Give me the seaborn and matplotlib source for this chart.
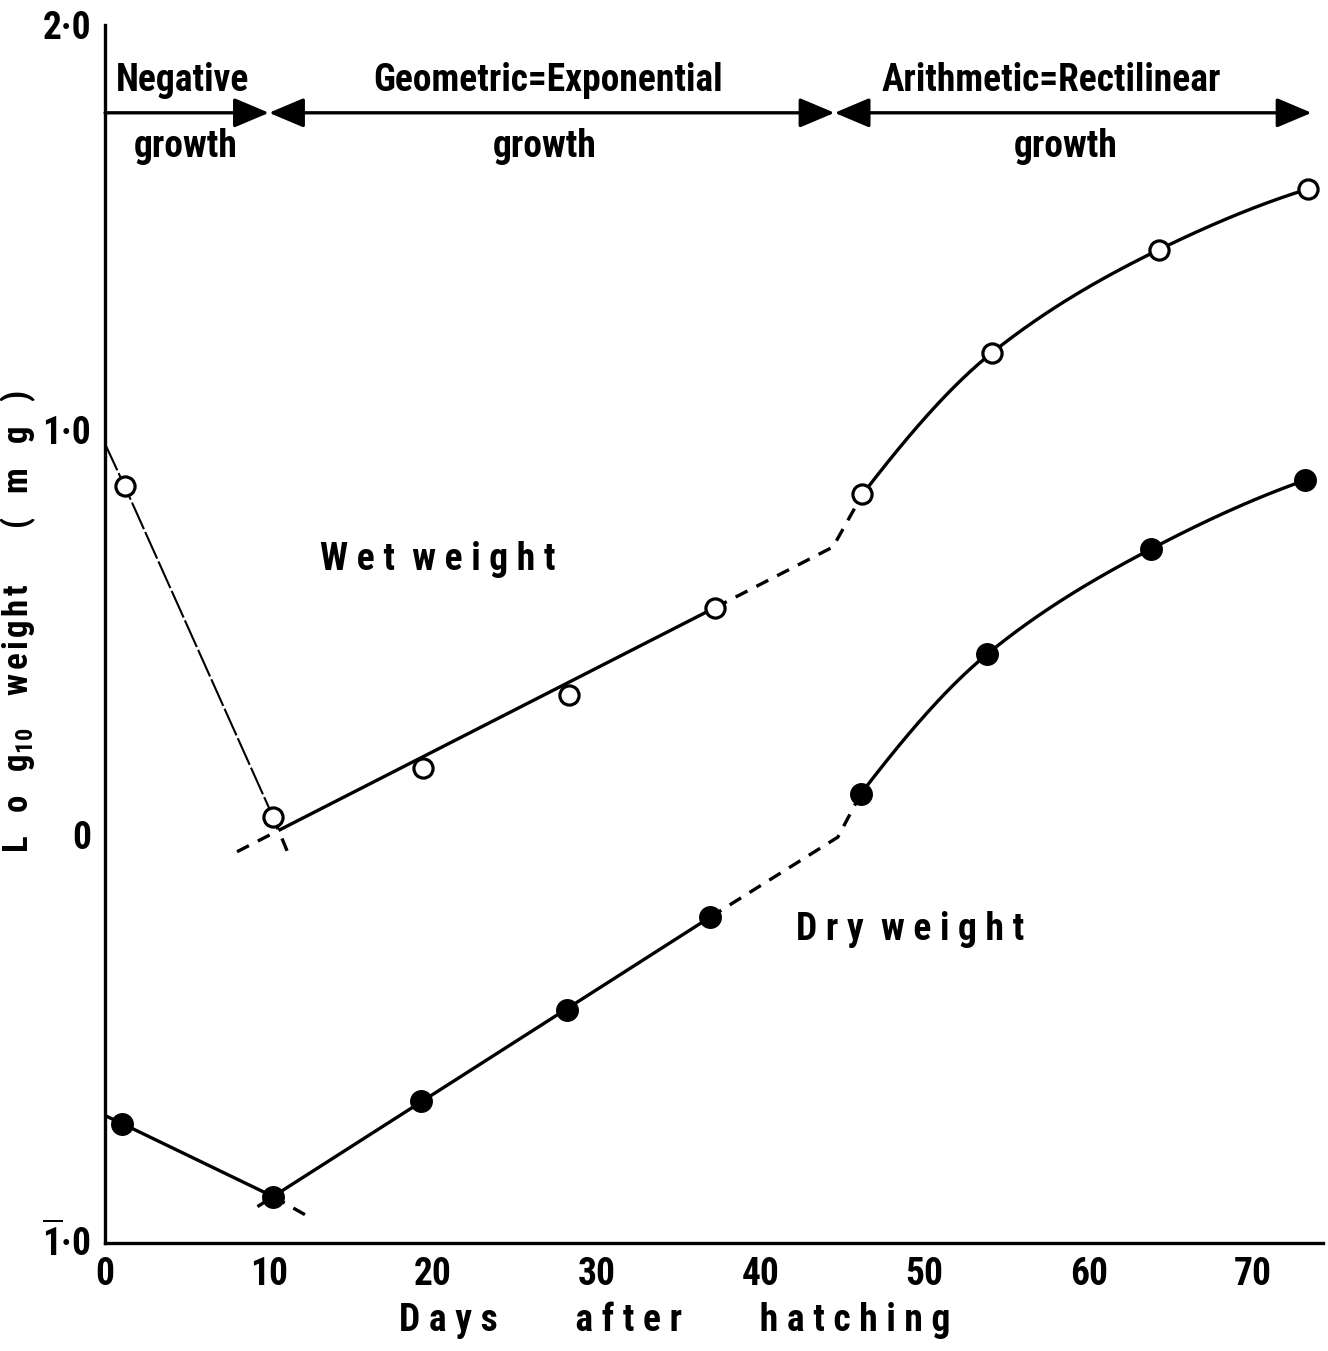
import numpy as np
import matplotlib
matplotlib.use("Agg")
import matplotlib.pyplot as plt
from matplotlib import font_manager as fm
import seaborn as sns

# ---------------- data ----------------
wet_days = [1.2, 10.25, 19.4, 28.3, 37.2, 46.2, 54.1, 64.3, 73.4]
wet_vals = [0.86, 0.043, 0.165, 0.345, 0.56, 0.84, 1.19, 1.445, 1.595]
dry_days = [1.05, 10.25, 19.3, 28.2, 36.9, 46.1, 53.8, 63.8, 73.2]
dry_vals = [-0.715, -0.895, -0.66, -0.435, -0.205, 0.10, 0.445, 0.705, 0.875]

# hand-drawn guide lines in the reference (day, log10 weight)
wet_neg_line_d = [0.0, 1.2, 10.25]
wet_neg_line_v = [0.965, 0.86, 0.043]
wet_neg_ext_d = [10.25, 11.25]
wet_neg_ext_v = [0.043, -0.055]
wet_exp_line_d = [10.7, 37.2]
wet_exp_line_v = [0.012, 0.56]
wet_exp_back_d = [8.05, 10.7]
wet_exp_back_v = [-0.043, 0.012]
wet_exp_fwd_d = [37.2, 44.4, 46.2]
wet_exp_fwd_v = [0.56, 0.71, 0.84]
wet_arith_d = [46.2, 54.1, 64.3, 73.4]
wet_arith_v = [0.84, 1.19, 1.445, 1.595]

dry_neg_line_d = [0.0, 1.05, 10.25]
dry_neg_line_v = [-0.695, -0.715, -0.895]
dry_neg_ext_d = [10.25, 12.2]
dry_neg_ext_v = [-0.895, -0.94]
dry_exp_line_d = [10.25, 36.9]
dry_exp_line_v = [-0.895, -0.205]
dry_exp_back_d = [9.3, 10.25]
dry_exp_back_v = [-0.92, -0.895]
dry_exp_fwd_d = [36.9, 44.7, 46.1]
dry_exp_fwd_v = [-0.205, -0.007, 0.10]
dry_arith_d = [46.1, 53.8, 63.8, 73.2]
dry_arith_v = [0.10, 0.445, 0.705, 0.875]

x_ticks = [0, 10, 20, 30, 40, 50, 60, 70]
y_ticks = [-1, 0, 1, 2]
y_ticklabels = [r"$\overline{\mathrm{1}}$·0", "0", "1·0", "2·0"]

phase_bounds = [0, 10, 44.5, 73.6]
phase_top = ["Negative", "Geometric=Exponential", "Arithmetic=Rectilinear"]
phase_bottom = ["growth", "growth", "growth"]

# ---------------- style ----------------
sns.set_theme(style="white")

# choose the narrowest available sans family
ttf = fm.fontManager.ttflist
names = {f.name for f in ttf}
FAMILY, STRETCH, MATHRM = "DejaVu Sans", "normal", "DejaVu Sans"
if "Liberation Sans Narrow" in names:
    FAMILY, MATHRM = "Liberation Sans Narrow", "Liberation Sans Narrow"
elif "Roboto Condensed" in names:
    FAMILY, MATHRM = "Roboto Condensed", "Roboto Condensed"
elif any(f.name == "DejaVu Sans" and str(f.stretch) in ("condensed", "semi-condensed") for f in ttf):
    FAMILY, STRETCH, MATHRM = "DejaVu Sans", "condensed", "DejaVu Sans:stretch=condensed"

WEIGHT = "bold"
plt.rcParams["font.family"] = [FAMILY, "DejaVu Sans"]
plt.rcParams["font.stretch"] = STRETCH
plt.rcParams["font.weight"] = WEIGHT
plt.rcParams["axes.labelweight"] = WEIGHT
plt.rcParams["mathtext.fontset"] = "custom"
plt.rcParams["mathtext.rm"] = MATHRM + ":bold"
plt.rcParams["mathtext.it"] = MATHRM + ":bold"
for k in ["text.color", "axes.labelcolor", "xtick.color", "ytick.color", "axes.edgecolor"]:
    plt.rcParams[k] = "black"

narrow = FAMILY != "DejaVu Sans" or STRETCH != "normal"
FS = 27 if narrow else 23
SP = " " if narrow else "\u2009"   # letter spacing character
HAIR = "\u200a"
LW = 2.4
DASH = (0, (4, 3))


def spaced(words, gap=3, letter=1):
    return (SP * gap).join((SP * letter).join(w) for w in words.split())


def pchip(xs, ys, n=80):
    xs = np.asarray(xs, float)
    ys = np.asarray(ys, float)
    h = np.diff(xs)
    d = np.diff(ys) / h
    m = np.zeros_like(ys)
    for k in range(1, len(xs) - 1):
        if d[k - 1] * d[k] > 0:
            w1 = 2 * h[k] + h[k - 1]
            w2 = h[k] + 2 * h[k - 1]
            m[k] = (w1 + w2) / (w1 / d[k - 1] + w2 / d[k])
    m[0] = ((2 * h[0] + h[1]) * d[0] - h[0] * d[1]) / (h[0] + h[1])
    m[-1] = ((2 * h[-1] + h[-2]) * d[-1] - h[-1] * d[-2]) / (h[-1] + h[-2])
    xo, yo = [], []
    for k in range(len(h)):
        t = np.linspace(0, 1, n)
        h00 = 2 * t**3 - 3 * t**2 + 1
        h10 = t**3 - 2 * t**2 + t
        h01 = -2 * t**3 + 3 * t**2
        h11 = t**3 - t**2
        xo.extend(xs[k] + t * h[k])
        yo.extend(h00 * ys[k] + h10 * h[k] * m[k] + h01 * ys[k + 1] + h11 * h[k] * m[k + 1])
    return np.array(xo), np.array(yo)


fig = plt.figure(figsize=(13.28, 13.51), dpi=100)
ax = fig.add_axes([0.0791, 0.0799, 0.9172, 0.9016])


def line(xd, yd, lw=LW, ls="-"):
    sns.lineplot(x=xd, y=yd, ax=ax, color="black", lw=lw, linestyle=ls,
                 sort=False, estimator=None, legend=False, zorder=2)


# wet weight
line(wet_neg_line_d, wet_neg_line_v, lw=1.5, ls=(0, (14, 1.5)))
line(wet_neg_ext_d, wet_neg_ext_v, lw=LW, ls=DASH)
line(wet_exp_line_d, wet_exp_line_v)
line(wet_exp_back_d, wet_exp_back_v, ls=DASH)
line(wet_exp_fwd_d, wet_exp_fwd_v, ls=DASH)
cx, cy = pchip(wet_arith_d, wet_arith_v)
line(cx, cy)

# dry weight
line(dry_neg_line_d, dry_neg_line_v)
line(dry_neg_ext_d, dry_neg_ext_v, ls=DASH)
line(dry_exp_line_d, dry_exp_line_v)
line(dry_exp_back_d, dry_exp_back_v, ls=DASH)
line(dry_exp_fwd_d, dry_exp_fwd_v, ls=DASH)
cx, cy = pchip(dry_arith_d, dry_arith_v)
line(cx, cy)

sns.scatterplot(x=wet_days, y=wet_vals, ax=ax, marker="o", s=190,
                facecolor="white", edgecolor="black", linewidth=2.3, zorder=4, legend=False)
sns.scatterplot(x=dry_days, y=dry_vals, ax=ax, marker="o", s=240,
                color="black", edgecolor="black", linewidth=1, zorder=4, legend=False)

# phase arrows
yarr = 1.783
for i in range(len(phase_bounds) - 1):
    a, b = phase_bounds[i], phase_bounds[i + 1]
    if i == 0:
        style = "-|>,head_length=0.9,head_width=0.38"
    else:
        style = "<|-|>,head_length=0.9,head_width=0.38"
    ax.annotate("", xy=(b, yarr), xytext=(a, yarr),
                arrowprops=dict(arrowstyle=style, lw=LW, color="black",
                                mutation_scale=24, shrinkA=0, shrinkB=0),
                annotation_clip=False)

top_x = [4.7, 27.0, 57.7]
bot_x = [4.9, 26.8, 58.6]
for t, x in zip(phase_top, top_x):
    ax.text(x, 1.864, t, ha="center", va="center", fontsize=FS)
for t, x in zip(phase_bottom, bot_x):
    ax.text(x, 1.70, t, ha="center", va="center", fontsize=FS)

ax.text(20.3, 0.68, spaced("Wet weight", 2), ha="center", va="center", fontsize=FS)
ax.text(49.1, -0.235, spaced("Dry weight", 2), ha="center", va="center", fontsize=FS)

# axes
ax.set_xlim(0, 74.3)
ax.set_ylim(-1.01, 2.0)
ax.set_xticks(x_ticks)
ax.set_xticklabels([str(v) for v in x_ticks])
ax.set_yticks(y_ticks)
ax.set_yticklabels(y_ticklabels)
ax.tick_params(axis="both", direction="in", length=17, width=2.2,
               labelsize=FS, color="black", labelcolor="black")
ax.tick_params(axis="x", pad=9)
ax.tick_params(axis="y", pad=10)
for side in ["top", "right"]:
    ax.spines[side].set_visible(False)
for side in ["left", "bottom"]:
    ax.spines[side].set_color("black")
    ax.spines[side].set_linewidth(2.4)
ax.set_facecolor("white")
ax.grid(False)

ax.set_xlabel(spaced("Days after hatching", 9), fontsize=FS, fontweight=WEIGHT)
ax.xaxis.set_label_coords(0.468, -0.048)
ylab = ((SP * 3).join("Log") + r"$_{\mathrm{10}}$" + SP * 4
        + HAIR.join("weight") + SP * 7 + (SP * 3).join("(mg)"))
ax.set_ylabel(ylab, fontsize=25, fontweight=WEIGHT)
ax.yaxis.set_label_coords(-0.055, 0.51)

fig.savefig("out.png", dpi=100, facecolor="white")
